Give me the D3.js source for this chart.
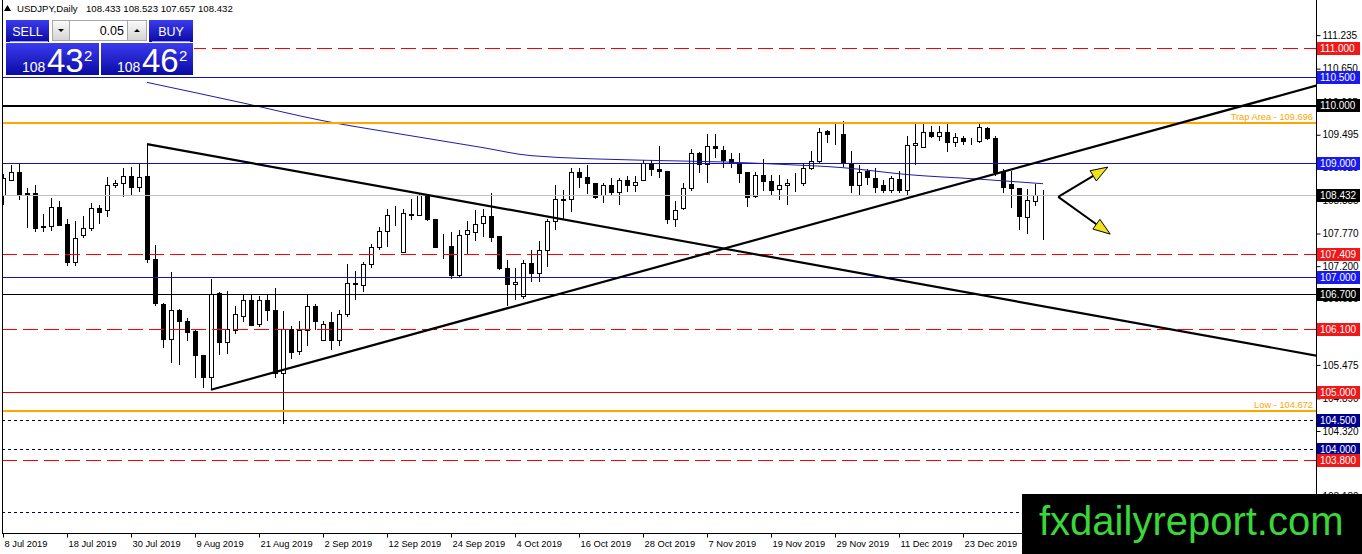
<!DOCTYPE html>
<html>
<head>
<meta charset="utf-8">
<script src="https://cdn.jsdelivr.net/npm/d3@7/dist/d3.min.js"></script>
<style>
  html, body { margin: 0; padding: 0; background: #fff; }
  svg { display: block; font-family: "Liberation Sans", Arial, sans-serif; }
</style>
</head>
<body>
<script>
// USDJPY daily bars, 8 Jul 2019 .. 8 Jan 2020
var openP = [108.44,108.70,108.84,108.47,108.47,107.90,107.90,108.23,107.93,107.27,
  107.75,107.86,108.22,108.18,108.61,108.65,108.77,108.59,108.77,107.32,
  106.54,105.92,106.44,106.25,106.06,105.65,105.26,106.73,105.87,106.09,
  106.33,106.61,106.19,106.60,106.43,105.33,106.10,105.71,106.09,106.50,
  105.91,106.22,105.91,106.37,106.91,106.87,107.23,107.53,107.81,108.09,
  107.45,108.10,108.10,108.44,108.02,107.55,107.55,107.04,107.76,107.80,
  107.95,108.08,107.72,107.16,106.89,106.67,107.26,107.08,107.48,107.99,
  108.37,108.38,108.84,108.75,108.65,108.44,108.62,108.49,108.71,108.62,
  108.71,109.00,108.89,108.87,108.02,108.22,108.56,109.17,108.99,109.30,
  109.23,109.07,109.01,108.84,108.43,108.80,108.69,108.54,108.62,108.66,
  108.65,108.91,109.03,109.56,109.51,109.51,109.00,108.62,108.87,108.74,
  108.62,108.53,108.72,108.53,109.32,109.28,109.54,109.47,109.54,109.36,
  109.44,109.38,109.38,109.61,109.44,108.85,108.64,108.56,108.05,108.34,
  108.433];
var highP = [108.81,108.97,109.00,108.56,108.62,108.11,108.39,108.34,108.02,107.99,
  108.08,108.30,108.27,108.75,108.71,108.92,108.94,108.99,109.33,107.57,
  106.55,107.09,106.46,106.30,106.09,105.65,106.97,106.75,106.77,106.50,
  106.69,106.69,106.67,106.69,106.81,106.41,106.15,106.24,106.69,106.54,
  106.24,106.40,106.44,107.23,107.12,107.27,107.58,107.89,108.19,108.25,
  108.19,108.37,108.47,108.46,108.02,107.77,107.80,107.83,107.98,108.18,
  108.19,108.48,107.72,107.30,107.16,107.30,107.48,107.64,108.03,108.62,
  108.53,108.91,108.91,108.97,108.65,108.65,108.74,108.74,108.77,108.77,
  109.06,109.06,109.30,108.87,108.34,108.66,109.25,109.20,109.50,109.50,
  109.30,109.18,109.18,108.84,108.85,109.07,108.80,108.80,108.72,108.82,
  109.00,109.22,109.61,109.57,109.70,109.73,109.22,108.97,108.89,108.91,
  108.71,108.78,108.86,109.47,109.71,109.71,109.64,109.64,109.69,109.53,
  109.47,109.44,109.69,109.63,109.48,108.89,108.87,108.56,108.54,108.64,
  108.523];
var lowP = [108.27,108.68,108.36,107.86,107.80,107.80,107.82,107.91,107.20,107.20,
  107.70,107.82,107.94,108.05,108.56,108.41,108.45,108.49,107.26,106.50,
  105.77,105.50,105.48,105.89,105.25,105.08,105.04,105.65,105.67,106.02,
  106.22,106.16,106.13,106.25,105.24,104.45,105.58,105.65,105.81,106.09,
  105.91,105.74,105.81,106.31,106.60,106.75,107.17,107.49,107.53,107.90,
  107.45,108.00,108.07,107.99,107.51,107.32,106.97,107.01,107.42,107.64,
  107.71,107.62,107.14,106.50,106.60,106.63,106.92,106.92,107.19,107.83,
  108.00,108.15,108.56,108.46,108.37,108.30,108.44,108.26,108.50,108.50,
  108.68,108.77,108.74,107.94,107.89,108.18,108.51,108.82,108.65,109.09,
  108.91,108.91,108.66,108.24,108.39,108.52,108.44,108.36,108.27,108.50,
  108.60,108.88,109.00,109.35,109.32,108.94,108.47,108.44,108.62,108.47,
  108.47,108.48,108.47,108.44,108.97,109.28,109.44,109.38,109.19,109.28,
  109.32,109.32,109.35,109.41,108.77,108.47,108.21,107.84,107.76,108.25,
  107.657];
var closeP = [108.74,108.84,108.44,108.46,107.87,107.89,108.23,107.91,107.27,107.70,
  107.86,108.21,108.15,108.61,108.65,108.77,108.59,108.75,107.32,106.56,
  105.92,106.44,106.24,106.05,105.64,105.26,106.72,105.87,106.10,106.36,
  106.61,106.17,106.60,106.43,105.34,106.10,105.70,106.09,106.50,106.24,
  106.19,105.91,106.37,106.91,106.88,107.23,107.53,107.81,108.09,108.10,
  108.12,108.11,108.44,108.02,107.54,107.55,107.04,107.75,107.83,107.93,
  108.08,107.71,107.16,106.89,106.93,107.26,107.08,107.48,107.98,108.37,
  108.36,108.84,108.75,108.65,108.40,108.62,108.49,108.70,108.62,108.67,
  109.00,108.89,108.87,108.02,108.18,108.56,109.17,108.99,109.30,109.26,
  109.06,109.00,108.82,108.41,108.80,108.68,108.53,108.62,108.66,108.65,
  108.91,109.03,109.54,109.51,109.51,109.00,108.62,108.85,108.75,108.58,
  108.53,108.74,108.53,109.32,109.35,109.54,109.47,109.54,109.36,109.46,
  109.38,109.38,109.63,109.44,108.84,108.59,108.56,108.08,108.36,108.44,
  108.432];

var dateLabels = ["8 Jul 2019","18 Jul 2019","30 Jul 2019","9 Aug 2019","21 Aug 2019",
  "2 Sep 2019","12 Sep 2019","24 Sep 2019","4 Oct 2019","16 Oct 2019","28 Oct 2019",
  "7 Nov 2019","19 Nov 2019","29 Nov 2019","11 Dec 2019","23 Dec 2019"];
var dateLabelBars = [0,8,16,24,32,40,48,56,64,72,80,88,96,104,112,120];

var priceTicks = [111.235,110.650,110.065,109.495,108.925,108.355,107.770,107.200,
  106.630,106.045,105.475,104.890,104.320,103.750,103.180];

// moving average, sampled at a few bars
var maBars   = [18, 30, 40, 50, 60, 66, 80, 90, 97, 105, 113, 122, 130];
var maValues = [110.41,110.05,109.74,109.50,109.27,109.13,109.05,109.02,108.98,108.92,108.80,108.72,108.64];

// horizontal levels
var levelPrices = [111.0,110.5,110.0,109.696,109.0,108.432,107.409,107.0,106.7,106.1,105.0,104.672,104.5,104.0,103.8,102.9];
var levelKinds  = ["target","round","major","trap","round","bid","target","round","key","target","stop","low","minor","minor","target","far"];

// trend lines and arrows: [bar, price]
var trendLines = [
  [[18, 109.33], [164.2, 105.636]],
  [[26, 105.04], [164.2, 110.356]]
];
var arrowFrom = [131.9, 108.41];
var arrowTo = [[138.1, 108.93], [138.4, 107.76]];

var quote = { symbol: "USDJPY,Daily", ohlc: "108.433 108.523 107.657 108.432",
  lots: "0.05", bidBig: "108", bidPips: "43", askBig: "108", askPips: "46", frac: "2" };

var W = 1362, H = 554;
var plotLeft = 2, plotRight = 1316, plotTop = 0, plotBottom = 533;

var x = d3.scaleLinear().domain([0, 130]).range([3, 1043]);
var y = d3.scaleLinear().domain([102.591, 111.814]).range([530, 2]);

var styles = {
  target: { color: "#ff0000", width: 1, dash: "15,6", label: "#f01818" },
  round:  { color: "#1414b4", width: 1, dash: null, label: "#1a1aee" },
  major:  { color: "#000", width: 2, dash: null, label: "#000" },
  key:    { color: "#000", width: 1, dash: null, label: "#000" },
  trap:   { color: "#ffa500", width: 2, dash: null, label: null, text: "Trap Area - " },
  bid:    { color: "#c0c0c0", width: 1, dash: null, label: "#000" },
  stop:   { color: "#e00000", width: 1, dash: null, label: "#f01818" },
  low:    { color: "#ffa500", width: 2, dash: null, label: null, text: "Low - " },
  minor:  { color: "#000050", width: 1, dash: "3,3", label: "#000090" },
  far:    { color: "#000050", width: 1, dash: "3,3", label: null }
};

var svg = d3.select("body").append("svg").attr("width", W).attr("height", H);

var defs = svg.append("defs");
defs.append("clipPath").attr("id", "plotClip")
  .append("rect").attr("x", plotLeft).attr("y", plotTop)
  .attr("width", plotRight - plotLeft).attr("height", plotBottom - plotTop);
var g1 = defs.append("linearGradient").attr("id", "blueGrad").attr("x1", 0).attr("y1", 0).attr("x2", 0).attr("y2", 1);
g1.append("stop").attr("offset", "0%").attr("stop-color", "#3b3bf0");
g1.append("stop").attr("offset", "100%").attr("stop-color", "#0a0aa4");
var g2 = defs.append("linearGradient").attr("id", "grayGrad").attr("x1", 0).attr("y1", 0).attr("x2", 0).attr("y2", 1);
g2.append("stop").attr("offset", "0%").attr("stop-color", "#fbfbfb");
g2.append("stop").attr("offset", "100%").attr("stop-color", "#d4d4d4");

var plot = svg.append("g").attr("clip-path", "url(#plotClip)");

// candles
var bars = d3.range(openP.length);
var px = function (i) { return Math.round(x(i)) + 0.5; };

plot.append("g").attr("stroke", "#000").attr("shape-rendering", "crispEdges")
  .selectAll("line").data(bars).join("line")
  .attr("x1", px).attr("x2", px)
  .attr("y1", function (i) { return Math.round(y(highP[i])); })
  .attr("y2", function (i) { return Math.round(y(lowP[i])); });

plot.append("g").attr("stroke", "#000").attr("shape-rendering", "crispEdges")
  .selectAll("rect").data(bars).join("rect")
  .attr("x", function (i) { return px(i) - 2; })
  .attr("width", 4)
  .attr("y", function (i) { return Math.round(y(Math.max(openP[i], closeP[i]))) + 0.5; })
  .attr("height", function (i) {
    return Math.max(0, Math.round(y(Math.min(openP[i], closeP[i]))) - Math.round(y(Math.max(openP[i], closeP[i]))));
  })
  .attr("fill", function (i) { return closeP[i] >= openP[i] ? "#fff" : "#000"; });

// moving average
plot.append("path")
  .datum(maBars.map(function (b, i) { return [b, maValues[i]]; }))
  .attr("fill", "none").attr("stroke", "#1c1ca8").attr("stroke-width", 1)
  .attr("d", d3.line().x(function (d) { return x(d[0]); }).y(function (d) { return y(d[1]); }).curve(d3.curveMonotoneX));

// horizontal levels
levelPrices.forEach(function (p, i) {
  var s = styles[levelKinds[i]];
  var yy = s.width === 1 ? Math.floor(y(p)) + 0.5 : Math.round(y(p));
  plot.append("line")
    .attr("x1", plotLeft).attr("x2", plotRight).attr("y1", yy).attr("y2", yy)
    .attr("stroke", s.color).attr("stroke-width", s.width)
    .attr("stroke-dasharray", s.dash)
    .attr("shape-rendering", "crispEdges");
  if (s.text) {
    plot.append("text")
      .attr("x", plotRight - 3).attr("y", yy - 3)
      .attr("text-anchor", "end").attr("font-size", "9.3px").attr("fill", s.color)
      .text(s.text + d3.format(".3f")(p));
  }
});

// trend lines
plot.append("g").selectAll("line").data(trendLines).join("line")
  .attr("x1", function (d) { return x(d[0][0]); }).attr("y1", function (d) { return y(d[0][1]); })
  .attr("x2", function (d) { return x(d[1][0]); }).attr("y2", function (d) { return y(d[1][1]); })
  .attr("stroke", "#000").attr("stroke-width", 2.2);

// arrows
arrowTo.forEach(function (t) {
  var x0 = x(arrowFrom[0]), y0 = y(arrowFrom[1]), x1 = x(t[0]), y1 = y(t[1]);
  var dx = x1 - x0, dy = y1 - y0, len = Math.sqrt(dx * dx + dy * dy);
  var ux = dx / len, uy = dy / len, hl = 17, hw = 6;
  var bx = x1 - ux * hl, by = y1 - uy * hl;
  plot.append("line").attr("x1", x0).attr("y1", y0).attr("x2", bx).attr("y2", by)
    .attr("stroke", "#000").attr("stroke-width", 2);
  plot.append("polygon")
    .attr("points", [[x1, y1], [bx - uy * hw, by + ux * hw], [bx + uy * hw, by - ux * hw]].join(" "))
    .attr("fill", "#f2e21a").attr("stroke", "#000").attr("stroke-width", 1);
});

// frame
svg.append("path")
  .attr("d", "M" + (plotLeft + 0.5) + "," + plotTop + "V" + (plotBottom + 0.5) + "H" + (plotRight + 0.5) + "V" + plotTop)
  .attr("fill", "none").attr("stroke", "#000").attr("shape-rendering", "crispEdges");

// price axis
var yAxis = svg.append("g").attr("transform", "translate(" + (plotRight + 0.5) + ",0)")
  .call(d3.axisRight(y).tickValues(priceTicks).tickFormat(d3.format(".3f")).tickSize(4).tickPadding(2));
yAxis.select(".domain").remove();
yAxis.selectAll("text").attr("font-size", "10px").attr("font-family", "Liberation Sans, Arial, sans-serif").attr("fill", "#000");
yAxis.selectAll("line").attr("stroke", "#000");

// level labels on the axis
levelPrices.forEach(function (p, i) {
  var s = styles[levelKinds[i]];
  if (!s.label) return;
  var yy = Math.floor(y(p));
  var lab = svg.append("g");
  lab.append("rect").attr("x", plotRight + 1).attr("y", yy - 6).attr("width", 43).attr("height", 13).attr("fill", s.label);
  lab.append("text").attr("x", plotRight + 4).attr("y", yy + 4)
    .attr("font-size", "10px").attr("fill", "#fff").text(d3.format(".3f")(p));
});

// date axis
var xAxis = svg.append("g").attr("transform", "translate(0," + (plotBottom + 0.5) + ")")
  .call(d3.axisBottom(x).tickValues(dateLabelBars).tickFormat(function (d, i) { return dateLabels[i]; }).tickSize(4).tickPadding(3));
xAxis.select(".domain").remove();
xAxis.selectAll("text").attr("text-anchor", "start").attr("dx", "1px")
  .attr("font-size", "9.3px").attr("font-family", "Liberation Sans, Arial, sans-serif").attr("fill", "#000");
xAxis.selectAll("line").attr("stroke", "#000");

// header
svg.append("path").attr("d", "M4,11L7.5,5L11,11Z").attr("fill", "#000");
svg.append("text").attr("x", 17).attr("y", 12).attr("font-size", "9.6px").text(quote.symbol);
svg.append("text").attr("x", 86).attr("y", 12).attr("font-size", "9.6px").text(quote.ohlc);

// one-click trading panel
var panel = svg.append("g");
panel.append("rect").attr("x", 3).attr("y", 17).attr("width", 191).attr("height", 59).attr("fill", "#fff");
panel.append("rect").attr("x", 6).attr("y", 20).attr("width", 43).attr("height", 22).attr("fill", "url(#blueGrad)");
panel.append("rect").attr("x", 149).attr("y", 20).attr("width", 44).attr("height", 22).attr("fill", "url(#blueGrad)");
panel.append("rect").attr("x", 6).attr("y", 43).attr("width", 93).attr("height", 32).attr("fill", "url(#blueGrad)");
panel.append("rect").attr("x", 101).attr("y", 43).attr("width", 92).attr("height", 32).attr("fill", "url(#blueGrad)");
panel.append("line").attr("x1", 10).attr("x2", 48).attr("y1", 41.5).attr("y2", 41.5).attr("stroke", "#9a9af5");
panel.append("line").attr("x1", 152).attr("x2", 190).attr("y1", 41.5).attr("y2", 41.5).attr("stroke", "#9a9af5");
panel.append("rect").attr("x", 52.5).attr("y", 20.5).attr("width", 17).attr("height", 20).attr("fill", "url(#grayGrad)").attr("stroke", "#a8a8a8");
panel.append("rect").attr("x", 69.5).attr("y", 20.5).attr("width", 58).attr("height", 20).attr("fill", "#fff").attr("stroke", "#a8a8a8");
panel.append("rect").attr("x", 127.5).attr("y", 20.5).attr("width", 19).attr("height", 20).attr("fill", "url(#grayGrad)").attr("stroke", "#a8a8a8");
panel.append("path").attr("d", "M58,29L64,29L61,32Z").attr("fill", "#000");
panel.append("path").attr("d", "M134,32L140,32L137,29Z").attr("fill", "#000");
panel.append("text").attr("x", 124).attr("y", 35).attr("text-anchor", "end").attr("font-size", "12.5px").text(quote.lots);
panel.append("text").attr("x", 27.5).attr("y", 36).attr("text-anchor", "middle").attr("font-size", "12.5px").attr("fill", "#fff").text("SELL");
panel.append("text").attr("x", 171).attr("y", 36).attr("text-anchor", "middle").attr("font-size", "12.5px").attr("fill", "#fff").text("BUY");
[[22, quote.bidBig, quote.bidPips, 47, 84], [117, quote.askBig, quote.askPips, 142, 179]].forEach(function (q) {
  panel.append("text").attr("x", q[0]).attr("y", 72).attr("font-size", "14px").attr("fill", "#fff").text(q[1]);
  panel.append("text").attr("x", q[3]).attr("y", 72).attr("font-size", "33px").attr("fill", "#fff").text(q[2]);
  panel.append("text").attr("x", q[4]).attr("y", 61).attr("font-size", "15px").attr("fill", "#fff").text(quote.frac);
});

// watermark
svg.append("rect").attr("x", 1022).attr("y", 494).attr("width", 340).attr("height", 60).attr("fill", "#000");
svg.append("text").attr("x", 1039).attr("y", 535).attr("font-size", "40px").attr("fill", "#3ad63a").text("fxdailyreport.com");
</script>
</body>
</html>
